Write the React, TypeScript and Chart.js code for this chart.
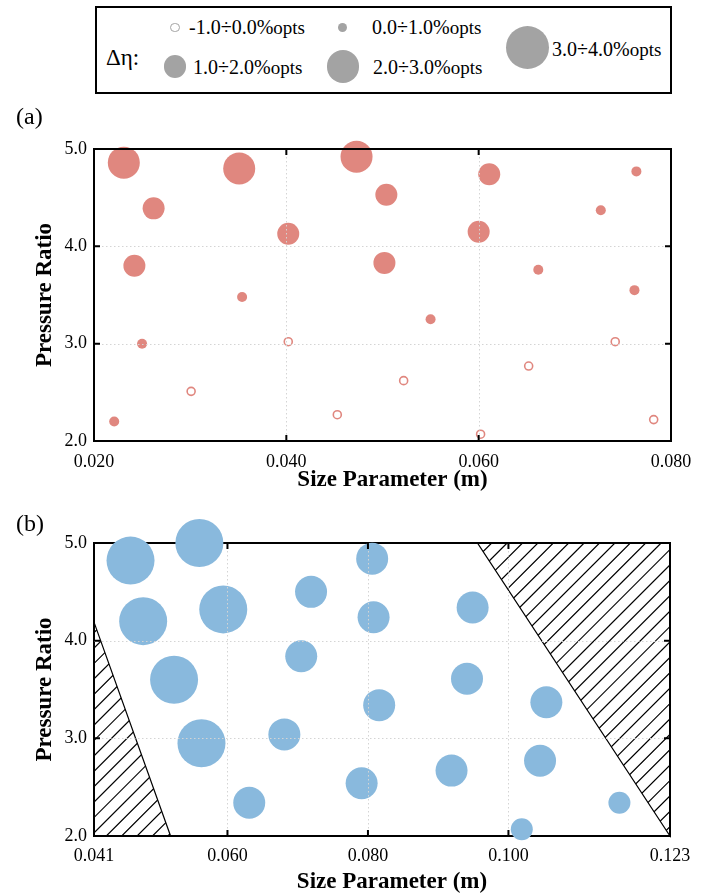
import React, { useEffect, useRef } from 'react';
import { Chart, registerables } from 'chart.js';

Chart.register(...registerables);

const FONT = '"Liberation Serif", "Times New Roman", serif';

// ---------- Legend: Δη bands (lower bound, label) ----------
const bandLower = [-1, 0, 1, 2, 3];
const bandLabels = ['-1.0÷0.0%', '0.0÷1.0%', '1.0÷2.0%', '2.0÷3.0%', '3.0÷4.0%'];

// ---------- Chart (a) ----------
const aSize = [
  0.0231, 0.0351, 0.0473,
  0.0262, 0.0242, 0.0402, 0.0504, 0.0611, 0.0600, 0.0502,
  0.0764, 0.0727, 0.0662, 0.0762, 0.0354, 0.0250, 0.0221, 0.0550,
  0.0402, 0.0301, 0.0453, 0.0522, 0.0602, 0.0652, 0.0742, 0.0782,
];
const aRatio = [
  4.86, 4.80, 4.92,
  4.39, 3.80, 4.13, 4.53, 4.74, 4.15, 3.83,
  4.77, 4.37, 3.76, 3.55, 3.48, 3.00, 2.20, 3.25,
  3.02, 2.51, 2.27, 2.62, 2.07, 2.77, 3.02, 2.22,
];
const aBand = [
  2, 2, 2,
  1, 1, 1, 1, 1, 1, 1,
  0, 0, 0, 0, 0, 0, 0, 0,
  -1, -1, -1, -1, -1, -1, -1, -1,
];
const aTicksX = [0.02, 0.04, 0.06, 0.08];
const aTicksY = [2, 3, 4, 5];

// ---------- Chart (b) ----------
const bSize = [
  0.0462, 0.0560, 0.0480, 0.0594, 0.0524, 0.0563,
  0.0719, 0.0705, 0.0806, 0.0808, 0.0949, 0.0941, 0.0816, 0.1054, 0.0681, 0.0791, 0.0919, 0.1045, 0.0631,
  0.1158, 0.1019,
];
const bRatio = [
  4.82, 5.00, 4.20, 4.32, 3.60, 2.95,
  4.50, 3.84, 4.84, 4.24, 4.34, 3.61, 3.34, 3.37, 3.04, 2.54, 2.67, 2.77, 2.34,
  2.34, 2.07,
];
const bBand = [
  3, 3, 3, 3, 3, 3,
  2, 2, 2, 2, 2, 2, 2, 2, 2, 2, 2, 2, 2,
  1, 1,
];
const bTicksX = [0.041, 0.06, 0.08, 0.1, 0.123];
const bTicksY = [2, 3, 4, 5];
// infeasible (hatched) regions
const bLeftZoneX = [0.041, 0.041, 0.0519];
const bLeftZoneY = [4.19, 2.0, 2.0];
const bRightZoneX = [0.0956, 0.123, 0.123];
const bRightZoneY = [5.0, 5.0, 2.0];

const RADIUS: Record<number, number> = { [-1]: 4, 0: 5, 1: 11, 2: 16, 3: 24 };

type Zone = { x: number[]; y: number[] };

interface Spec {
  xs: number[];
  ys: number[];
  bands: number[];
  xTicks: number[];
  yTicks: number[];
  xDigits: number;
  color: string;
  padTop: number;
  padRight: number;
  xScaleH: number;
  xTickPad: number;
  xTitleOffset: number;
  xTitleShift: number;
  zones: Zone[];
  frameBefore: boolean;
}

function drawZone(chart: any, z: Zone) {
  const { ctx, chartArea: a, scales } = chart;
  const pts = z.x.map((v, i) => [scales.x.getPixelForValue(v), scales.y.getPixelForValue(z.y[i])]);
  const path = () => {
    ctx.beginPath();
    pts.forEach(([px, py], i) => (i ? ctx.lineTo(px, py) : ctx.moveTo(px, py)));
    ctx.closePath();
  };
  ctx.save();
  path();
  ctx.clip();
  ctx.strokeStyle = '#000';
  ctx.lineWidth = 1.2;
  const H = a.bottom - a.top;
  const step = 15.4;
  let start = a.left + 104.7;
  while (start > a.left - H) start -= step;
  ctx.beginPath();
  for (let x0 = start; x0 <= a.right + step; x0 += step) {
    ctx.moveTo(x0, a.bottom);
    ctx.lineTo(x0 + H, a.top);
  }
  ctx.stroke();
  ctx.restore();
  ctx.save();
  ctx.strokeStyle = '#000';
  ctx.lineWidth = 1.2;
  path();
  ctx.stroke();
  ctx.restore();
}

function drawFrame(chart: any) {
  const { ctx, chartArea: a } = chart;
  ctx.save();
  ctx.strokeStyle = '#000';
  ctx.lineWidth = 2;
  ctx.strokeRect(a.left, a.top, a.right - a.left, a.bottom - a.top);
  ctx.restore();
}

function makePlugin(spec: Spec) {
  return {
    id: 'frameDecor',
    beforeDatasetsDraw(chart: any) {
      spec.zones.forEach((z) => drawZone(chart, z));
      if (spec.frameBefore) drawFrame(chart);
    },
    afterDatasetsDraw(chart: any) {
      const { ctx, chartArea: a, scales } = chart;
      const xin = spec.xTicks.slice(1, -1).map((v) => scales.x.getPixelForValue(v));
      const yin = spec.yTicks.slice(1, -1).map((v) => scales.y.getPixelForValue(v));
      // dotted grid
      ctx.save();
      ctx.strokeStyle = '#d4d4d4';
      ctx.lineWidth = 1;
      ctx.setLineDash([1.5, 2.5]);
      ctx.beginPath();
      xin.forEach((px) => {
        ctx.moveTo(Math.round(px) + 0.5, a.top);
        ctx.lineTo(Math.round(px) + 0.5, a.bottom);
      });
      yin.forEach((py) => {
        ctx.moveTo(a.left, Math.round(py) + 0.5);
        ctx.lineTo(a.right, Math.round(py) + 0.5);
      });
      ctx.stroke();
      ctx.restore();
      if (!spec.frameBefore) drawFrame(chart);
      // inward tick marks
      ctx.save();
      ctx.strokeStyle = '#000';
      ctx.lineWidth = 2;
      const L = 6;
      ctx.beginPath();
      xin.forEach((px) => {
        ctx.moveTo(px, a.bottom);
        ctx.lineTo(px, a.bottom - L);
        ctx.moveTo(px, a.top);
        ctx.lineTo(px, a.top + L);
      });
      yin.forEach((py) => {
        ctx.moveTo(a.left, py);
        ctx.lineTo(a.left + L, py);
        ctx.moveTo(a.right, py);
        ctx.lineTo(a.right - L, py);
      });
      ctx.stroke();
      ctx.restore();
    },
    afterDraw(chart: any) {
      const { ctx, chartArea: a } = chart;
      ctx.save();
      ctx.fillStyle = '#000';
      ctx.font = `bold 23px ${FONT}`;
      ctx.textAlign = 'center';
      ctx.textBaseline = 'alphabetic';
      ctx.fillText('Size Parameter (m)', (a.left + a.right) / 2 + spec.xTitleShift, a.bottom + spec.xTitleOffset);
      ctx.restore();
    },
  };
}

function buildConfig(spec: Spec): any {
  const present = bandLower.filter((b) => spec.bands.includes(b)).slice().reverse();
  const datasets = present.map((b) => {
    const open = b < 0;
    const data = spec.xs
      .map((x, i) => ({ x, y: spec.ys[i], r: RADIUS[spec.bands[i]], band: spec.bands[i] }))
      .filter((p) => p.band === b)
      .map(({ x, y, r }) => ({ x, y, r }));
    return {
      type: 'bubble',
      label: bandLabels[bandLower.indexOf(b)] + 'pts',
      data,
      backgroundColor: open ? '#ffffff' : spec.color,
      borderColor: spec.color,
      borderWidth: open ? 1.6 : 0,
      hoverRadius: 0,
      clip: false,
    };
  });
  const tickFont = { family: FONT, size: 18 };
  return {
    type: 'bubble',
    data: { datasets },
    options: {
      animation: false,
      responsive: false,
      devicePixelRatio: 1,
      events: [],
      layout: { padding: { top: spec.padTop, right: spec.padRight, left: 0, bottom: 0 } },
      plugins: { legend: { display: false }, tooltip: { enabled: false } },
      scales: {
        x: {
          type: 'linear',
          position: 'bottom',
          min: spec.xTicks[0],
          max: spec.xTicks[spec.xTicks.length - 1],
          afterBuildTicks: (s: any) => {
            s.ticks = spec.xTicks.map((v) => ({ value: v }));
          },
          afterFit: (s: any) => {
            s.height = spec.xScaleH;
          },
          ticks: {
            autoSkip: false,
            maxRotation: 0,
            minRotation: 0,
            padding: spec.xTickPad,
            color: '#000',
            font: tickFont,
            callback: (v: any) => Number(v).toFixed(spec.xDigits),
          },
          grid: { display: false, drawTicks: false },
          border: { display: false },
        },
        y: {
          type: 'linear',
          position: 'left',
          min: spec.yTicks[0],
          max: spec.yTicks[spec.yTicks.length - 1],
          afterBuildTicks: (s: any) => {
            s.ticks = spec.yTicks.map((v) => ({ value: v }));
          },
          afterFit: (s: any) => {
            s.width = 94;
          },
          ticks: {
            autoSkip: false,
            padding: 7,
            color: '#000',
            font: tickFont,
            callback: (v: any) => Number(v).toFixed(1),
          },
          grid: { display: false, drawTicks: false },
          border: { display: false },
          title: {
            display: true,
            text: 'Pressure Ratio',
            color: '#000',
            font: { family: FONT, size: 23, weight: 'bold' },
            padding: { top: 31, bottom: 0 },
          },
        },
      },
    },
    plugins: [makePlugin(spec)],
  };
}

function ChartCanvas({ spec, top, height }: { spec: Spec; top: number; height: number }) {
  const ref = useRef<HTMLCanvasElement>(null);
  useEffect(() => {
    const chart = new Chart(ref.current as HTMLCanvasElement, buildConfig(spec));
    return () => chart.destroy();
  }, []);
  return (
    <canvas
      ref={ref}
      width={704}
      height={height}
      style={{ position: 'absolute', left: 0, top, width: 704, height, display: 'block' }}
    />
  );
}

const specA: Spec = {
  xs: aSize,
  ys: aRatio,
  bands: aBand,
  xTicks: aTicksX,
  yTicks: aTicksY,
  xDigits: 3,
  color: '#E0877F',
  padTop: 49,
  padRight: 33,
  xScaleH: 59,
  xTickPad: 10,
  xTitleOffset: 45,
  xTitleShift: 10,
  zones: [],
  frameBefore: false,
};

const specB: Spec = {
  xs: bSize,
  ys: bRatio,
  bands: bBand,
  xTicks: bTicksX,
  yTicks: bTicksY,
  xDigits: 3,
  color: '#89B9DD',
  padTop: 43,
  padRight: 34,
  xScaleH: 58,
  xTickPad: 9,
  xTitleOffset: 51.5,
  xTitleShift: 10,
  zones: [
    { x: bLeftZoneX, y: bLeftZoneY },
    { x: bRightZoneX, y: bRightZoneY },
  ],
  frameBefore: true,
};

const legendItems = [
  { cx: 175, cy: 27.5, r: 4.6, tx: 189, base: 33.3 },
  { cx: 342.3, cy: 27.7, r: 4.7, tx: 372, base: 33.3 },
  { cx: 175, cy: 66.7, r: 11.3, tx: 193, base: 74 },
  { cx: 343, cy: 66.7, r: 16.3, tx: 373, base: 74 },
  { cx: 527.3, cy: 47.7, r: 21.8, tx: 552, base: 56 },
];

const LEG_GRAY = '#a3a3a3';

function Legend() {
  return (
    <>
      <div
        style={{
          position: 'absolute',
          left: 95,
          top: 6,
          width: 577,
          height: 88,
          border: '2px solid #000',
          boxSizing: 'border-box',
        }}
      />
      <div
        style={{
          position: 'absolute',
          left: 106,
          top: 65 - 0.8375 * 23,
          fontFamily: FONT,
          fontSize: 23,
          lineHeight: '23px',
          whiteSpace: 'nowrap',
        }}
      >
        Δη:
      </div>
      {legendItems.map((it, i) => {
        const open = bandLower[i] < 0;
        return (
          <React.Fragment key={i}>
            <div
              style={{
                position: 'absolute',
                left: it.cx - it.r,
                top: it.cy - it.r,
                width: it.r * 2,
                height: it.r * 2,
                borderRadius: '50%',
                boxSizing: 'border-box',
                background: open ? '#fff' : LEG_GRAY,
                border: open ? `1.5px solid ${LEG_GRAY}` : 'none',
              }}
            />
            <div
              style={{
                position: 'absolute',
                left: it.tx,
                top: it.base - 0.8375 * 20,
                fontFamily: FONT,
                fontSize: 20,
                lineHeight: '20px',
                whiteSpace: 'nowrap',
              }}
            >
              {bandLabels[i]}
              <span style={{ fontSize: 19 }}>opts</span>
            </div>
          </React.Fragment>
        );
      })}
    </>
  );
}

export default function App() {
  return (
    <div
      style={{
        position: 'absolute',
        left: 0,
        top: 0,
        width: 704,
        height: 894,
        background: '#fff',
        overflow: 'hidden',
        fontFamily: FONT,
        color: '#000',
      }}
    >
      <ChartCanvas spec={specA} top={100} height={400} />
      <ChartCanvas spec={specB} top={500} height={394} />
      <Legend />
      <div style={{ position: 'absolute', left: 16, top: 123.7 - 0.8375 * 24, fontFamily: FONT, fontSize: 24, lineHeight: '24px' }}>
        (a)
      </div>
      <div style={{ position: 'absolute', left: 16, top: 530.7 - 0.8375 * 24, fontFamily: FONT, fontSize: 24, lineHeight: '24px' }}>
        (b)
      </div>
    </div>
  );
}
